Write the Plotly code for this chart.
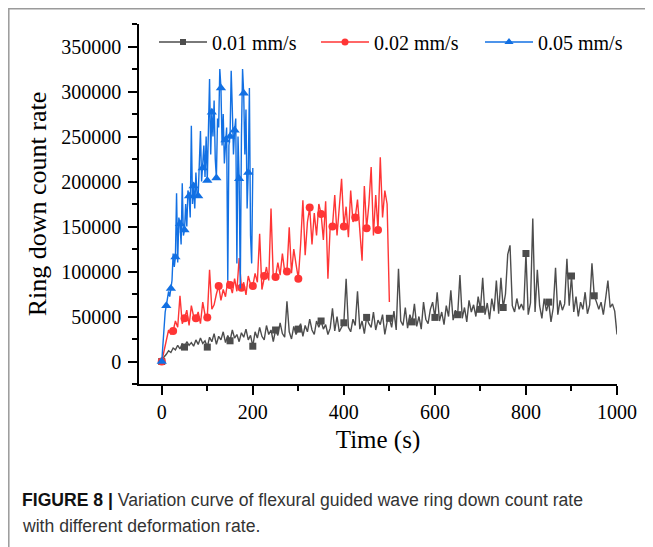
import plotly.graph_objects as go

# ---------------- data (values in counts/s) ----------------
series_names = ["0.01 mm/s", "0.02 mm/s", "0.05 mm/s"]

# 0.01 mm/s : sampled every 5 s, 0..1000 s
time_001 = [i * 5 for i in range(201)]
rate_001_k = [
    0, 5, 8, 12, 10, 15, 13, 18, 14, 20, 16, 22, 18, 21, 17, 24, 19, 26, 20, 23,
    16, 27, 22, 31, 19, 28, 24, 33, 21, 29, 23, 35, 26, 30, 22, 32, 27, 36, 24, 29,
    17, 33, 26, 38, 28, 24, 40, 30, 35, 22, 35, 29, 43, 31, 27, 67, 33, 25, 39, 30,
    36, 42, 28, 40, 33, 47, 35, 30, 45, 38, 45, 36, 41, 30, 37, 59, 34, 50, 33, 39,
    43, 92, 38, 33, 47, 40, 78, 36, 45, 31, 49, 42, 38, 55, 35, 46, 41, 52, 30, 44,
    48, 38, 56, 35, 103, 45, 40, 60, 37, 52, 44, 64, 39, 50, 36, 66, 47, 42, 58, 66,
    49, 77, 45, 55, 41, 62, 50, 79, 46, 57, 52, 96, 48, 60, 44, 68, 55, 63, 50, 72,
    58, 93, 52, 65, 47, 70, 56, 90, 53, 93, 60, 75, 119, 129, 62, 55, 70, 58, 64, 57,
    120, 52, 65, 159, 55, 102, 62, 48, 70, 56, 66, 44, 60, 104, 52, 68, 57, 64, 114, 62,
    95, 55, 72, 50, 66, 58, 77, 53, 63, 109, 73, 66, 58, 66, 52, 70, 90, 60, 64, 56,
    30,
]

# 0.02 mm/s : sampled every 5 s, 0..500 s
time_002 = [i * 5 for i in range(101)]
rate_002_k = [
    0, 12, 22, 35, 30, 34, 45, 38, 73, 42,
    48, 57, 40, 62, 50, 48, 55, 42, 66, 52,
    49, 102, 58, 63, 75, 84, 68, 80, 72, 90,
    85, 76, 92, 78, 115, 82, 88, 74, 95, 86,
    84, 98, 88, 142, 80, 95, 105, 90, 170, 92,
    94, 110, 96, 120, 100, 100, 149, 98, 125, 108,
    92, 130, 179, 118, 155, 171, 130, 165, 140, 175,
    164, 135, 178, 92, 150, 150, 185, 140, 168, 203,
    150, 172, 138, 190, 155, 160, 180, 145, 112, 195,
    148, 175, 216, 140, 185, 146, 227, 160, 190, 175,
    66,
]

# 0.05 mm/s : sampled every 2.5 s, 0..200 s
time_005 = [i * 2.5 for i in range(81)]
rate_005_k = [
    0, 20, 40, 55, 62, 70, 78, 72, 81, 90,
    120, 105, 116, 187, 110, 160, 153, 130, 198, 140,
    146, 175, 150, 190, 184, 160, 262, 175, 195, 170,
    210, 185, 184, 230, 256, 200, 215, 240, 205, 250,
    201, 270, 314, 230, 277, 250, 290, 225, 204, 270,
    260, 325, 304, 240, 275, 220, 246, 260, 90, 240,
    250, 323, 280, 230, 257, 270, 109, 250, 203, 81,
    250, 325, 298, 230, 280, 170, 210, 304, 140, 109,
    215,
]

rate_001 = [v * 1000 for v in rate_001_k]
rate_002 = [v * 1000 for v in rate_002_k]
rate_005 = [v * 1000 for v in rate_005_k]

x_ticks = [0, 200, 400, 600, 800, 1000]
y_ticks = [0, 50000, 100000, 150000, 200000, 250000, 300000, 350000]

# ---------------- styling ----------------
colors = ["#4d4d4d", "#ff3535", "#1270e3"]
symbols = ["square", "circle", "triangle-up"]
msizes = [7, 8, 9]
marker_step = [10, 5, 4]
serif = "Liberation Serif, Times New Roman, serif"
legend_ids = ["legend", "legend2", "legend3"]

series = [(time_001, rate_001), (time_002, rate_002), (time_005, rate_005)]

fig = go.Figure()
for k, (t, r) in enumerate(series):
    fig.add_trace(go.Scatter(
        x=t, y=r, mode="lines",
        line=dict(color=colors[k], width=1.4),
        showlegend=False, legendgroup=series_names[k], hoverinfo="skip"))
    idx = list(range(0, len(t) - 1, marker_step[k]))
    fig.add_trace(go.Scatter(
        x=[t[i] for i in idx], y=[r[i] for i in idx], mode="markers",
        marker=dict(color=colors[k], symbol=symbols[k], size=msizes[k]),
        showlegend=False, legendgroup=series_names[k]))
for k in range(3):
    fig.add_trace(go.Scatter(
        x=[None], y=[None], mode="lines+markers", name=series_names[k],
        legendgroup=series_names[k], legend=legend_ids[k],
        line=dict(color=colors[k], width=1.4),
        marker=dict(color=colors[k], symbol=symbols[k], size=msizes[k] - 1)))

# The page body adds an 8px offset; the figure is laid out in page
# coordinates (reference pixels) minus that offset.
OFF = 8
W, H = 653 - OFF, 547 - OFF
L, T = 139 - OFF, 24 - OFF
pw, ph = 478, 360
R = W - L - pw
B = H - T - ph

def px(xr):
    return (xr - OFF - L) / pw

def py(yr):
    return (H - B - (yr - OFF)) / ph

def legend_at(xr):
    return dict(
        orientation="h", x=px(xr), y=py(42), xanchor="left", yanchor="middle",
        font=dict(family=serif, size=20, color="black"),
        bgcolor="rgba(0,0,0,0)", itemwidth=48,
    )

caption_font = dict(family="Liberation Sans, Arial, sans-serif", size=17.6, color="#333333")

fig.update_layout(
    width=W, height=H,
    margin=dict(l=L, r=R, t=T, b=B, autoexpand=False),
    paper_bgcolor="white", plot_bgcolor="white",
    font=dict(family=serif, color="black"),
    legend=legend_at(154),
    legend2=legend_at(316),
    legend3=legend_at(480),
    xaxis=dict(
        range=[-50, 1000], tickvals=x_ticks, ticktext=[str(v) for v in x_ticks],
        showline=True, linecolor="black", linewidth=1.5, mirror=False,
        ticks="outside", ticklen=9, tickwidth=1.5, tickcolor="black",
        minor=dict(dtick=100, tick0=0, ticks="outside", ticklen=5, tickwidth=1.5, tickcolor="black"),
        showgrid=False, zeroline=False,
        tickfont=dict(family=serif, size=20, color="black"),
        title=dict(text="Time (s)", font=dict(family=serif, size=25, color="black"), standoff=9),
    ),
    yaxis=dict(
        range=[-25000, 375000], tickvals=y_ticks, ticktext=[str(v) for v in y_ticks],
        showline=True, linecolor="black", linewidth=1.5, mirror=False,
        ticks="outside", ticklen=9, tickwidth=1.5, tickcolor="black",
        ticklabelstandoff=3,
        minor=dict(dtick=25000, tick0=0, ticks="outside", ticklen=5, tickwidth=1.5, tickcolor="black"),
        showgrid=False, zeroline=False,
        tickfont=dict(family=serif, size=20, color="black"),
        title=dict(text="Ring down count rate", font=dict(family=serif, size=26, color="black"), standoff=7),
    ),
    shapes=[dict(
        type="path", xref="paper", yref="paper",
        path=f"M {px(8.8)} {py(560)} L {px(8.8)} {py(8.8)} L {px(670)} {py(8.8)}",
        line=dict(color="#9a9a9a", width=1.5),
    )],
    annotations=[
        dict(xref="paper", yref="paper", x=px(20), y=py(500), xanchor="left", yanchor="middle",
             align="left", showarrow=False, font=caption_font,
             text="<b><span style='color:#111'>FIGURE 8 |</span></b> Variation curve of flexural guided wave ring down count rate"),
        dict(xref="paper", yref="paper", x=px(20), y=py(526), xanchor="left", yanchor="middle",
             align="left", showarrow=False, font=caption_font,
             text="with different deformation rate."),
    ],
)

fig.write_html("out.html")
